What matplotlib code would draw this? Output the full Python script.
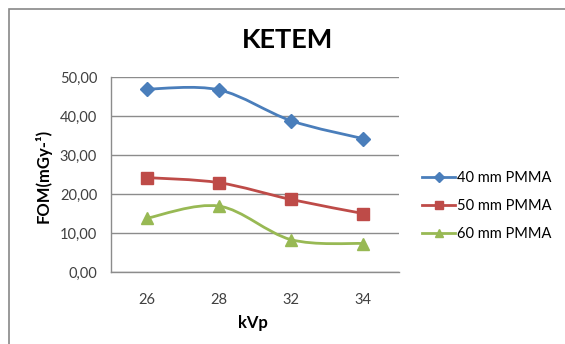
import numpy as np
import matplotlib.pyplot as plt
from matplotlib.path import Path
from matplotlib.patches import PathPatch, Rectangle
from matplotlib.lines import Line2D

plt.rcParams['font.family'] = ['Lato', 'DejaVu Sans']

kvp = ['26', '28', '32', '34']
fom_40 = [46.9, 46.7, 38.8, 34.2]
fom_50 = [24.2, 22.9, 18.6, 15.0]
fom_60 = [13.8, 16.9, 8.3, 7.3]

series = [
    ('40 mm PMMA', fom_40, '#4a7ebb', 'D', 7),
    ('50 mm PMMA', fom_50, '#be4b48', 's', 8),
    ('60 mm PMMA', fom_60, '#98b954', '^', 8),
]


def smooth_path(x, y, t=1/6):
    # catmull-rom style bezier through the points, like excel "smoothed line"
    pts = np.column_stack([x, y]).astype(float)
    verts = [pts[0]]
    codes = [Path.MOVETO]
    n = len(pts)
    for i in range(n - 1):
        p0 = pts[i - 1] if i > 0 else pts[i]
        p1 = pts[i]
        p2 = pts[i + 1]
        p3 = pts[i + 2] if i + 2 < n else pts[i + 1]
        c1 = p1 + (p2 - p0) * t
        c2 = p2 - (p3 - p1) * t
        verts += [c1, c2, p2]
        codes += [Path.CURVE4] * 3
    return Path(verts, codes)


fig = plt.figure(figsize=(5.65, 3.44), dpi=100)
fig.patches.append(Rectangle((9 / 565, -0.1), 1.2, 1 - 9 / 344 + 0.1,
                             transform=fig.transFigure, fill=False,
                             edgecolor='#888888', lw=1.2))

ax = fig.add_axes([111 / 565, 72 / 344, 288 / 565, 195 / 344])
x = np.arange(len(kvp))
handles = []
for name, vals, col, mk, ms in series:
    ax.add_patch(PathPatch(smooth_path(x, vals), fill=False, edgecolor=col,
                           lw=2.0, capstyle='round', joinstyle='round', zorder=3))
    ax.plot(x, vals, linestyle='none', marker=mk, ms=ms, color=col,
            markeredgecolor=col, zorder=4)
    handles.append(Line2D([], [], color=col, lw=2.0, marker=mk, ms=ms * 0.8,
                          label=name))

ax.set_xlim(-0.5, len(kvp) - 0.5)
ax.set_ylim(0, 50)
ax.set_yticks(np.arange(0, 51, 10))
ax.set_yticklabels(['%d,00' % v for v in range(0, 51, 10)])
ax.set_xticks(x)
ax.set_xticklabels(kvp)
ax.grid(axis='y', color='#8c8c8c', lw=1.0)
ax.set_axisbelow(True)
for s in ['top', 'right']:
    ax.spines[s].set_visible(False)
for s in ['left', 'bottom']:
    ax.spines[s].set_color('#8c8c8c')
    ax.spines[s].set_linewidth(1.0)
ax.tick_params(length=0, labelsize=10.5, colors='#404040', pad=10)
ax.tick_params(axis='x', pad=15)

fig.text(253 / 565, 1 - 323 / 344, 'kVp', fontsize=12, fontweight='bold',
         ha='center', va='center')
fig.text(43 / 565, 1 - 176 / 344, 'FOM(mGy-¹)', fontsize=12, fontweight='bold',
         ha='center', va='center', rotation=90)
fig.text(288 / 565, 1 - 40 / 344, 'KETEM', fontsize=19.5, fontweight='bold',
         ha='center', va='center')

fig.legend(handles=handles, loc='center left', bbox_to_anchor=(409 / 565, 1 - 206 / 344),
           frameon=False, fontsize=10.5, handlelength=2.25, handletextpad=0.15,
           labelspacing=0.95)

fig.savefig('out.png', dpi=100)
